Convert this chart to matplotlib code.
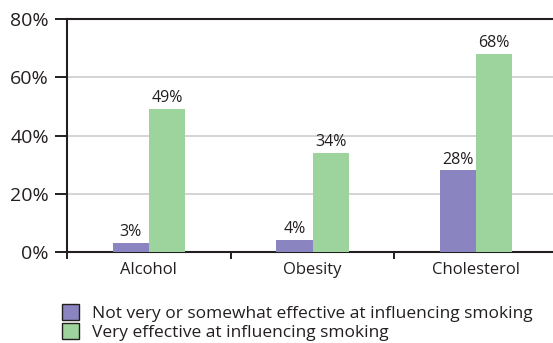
import matplotlib
matplotlib.use("Agg")
import matplotlib.pyplot as plt
import numpy as np
from matplotlib.patches import Patch

categories = ["Alcohol", "Obesity", "Cholesterol"]
not_very = [3, 4, 28]
very = [49, 34, 68]
series_names = ["Not very or somewhat effective at influencing smoking",
                "Very effective at influencing smoking"]
y_ticks = [0, 20, 40, 60, 80]

purple = "#8a84c0"
green = "#9dd39c"
dark = "#231f20"

plt.rcParams['font.family'] = ['Open Sans', 'DejaVu Sans']

fig = plt.figure(figsize=(5.53, 3.43), dpi=100)
ax = fig.add_axes([67/553, 1 - 252/343, (558-67)/553, (252-19)/343])

x = np.arange(len(categories))
w = 0.22
ax.bar(x - w/2, not_very, w, color=purple, zorder=3)
ax.bar(x + w/2, very, w, color=green, zorder=3)

for xi, v in zip(x - w/2, not_very):
    ax.text(xi, v + 1.0, f"{v}%", ha="center", va="bottom", fontsize=11.5, color=dark)
for xi, v in zip(x + w/2, very):
    ax.text(xi, v + 1.0, f"{v}%", ha="center", va="bottom", fontsize=11.5, color=dark)

ax.set_xlim(-0.5, 2.5)
ax.set_ylim(0, 80)
ax.set_yticks(y_ticks)
ax.set_yticklabels([f"{t}%" for t in y_ticks], fontsize=14, color=dark)
ax.yaxis.grid(True, color="#d4d4d4", lw=1.4, zorder=0)
ax.tick_params(axis="y", length=9, width=1.4, color=dark, pad=4)

ax.set_xticks(x)
ax.set_xticklabels(categories, fontsize=12, color=dark)
ax.tick_params(axis="x", which="major", length=0, pad=7)
ax.set_xticks([-0.5, 0.5, 1.5], minor=True)
ax.tick_params(axis="x", which="minor", length=5, width=1.4, color=dark)

for s in ["left", "bottom", "top"]:
    ax.spines[s].set_color(dark)
    ax.spines[s].set_linewidth(1.5)
ax.spines["right"].set_visible(False)

handles = [Patch(facecolor=purple, edgecolor=dark, lw=1.0),
           Patch(facecolor=green, edgecolor=dark, lw=1.0)]
fig.legend(handles, series_names, loc="upper left",
           bbox_to_anchor=(62/553, 1 - 304/343), borderpad=0, borderaxespad=0,
           frameon=False, fontsize=12.5, handlelength=1.0, handleheight=1.0,
           handletextpad=0.75, labelspacing=0.08, labelcolor=dark)

fig.savefig("out.png", dpi=100)
